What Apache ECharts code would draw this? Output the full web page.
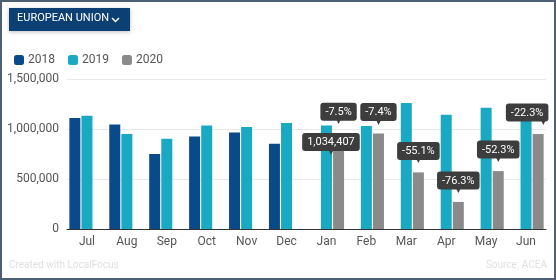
<!DOCTYPE html>
<html>
<head>
<meta charset="utf-8">
<script src="https://cdn.jsdelivr.net/npm/echarts@6/dist/echarts.min.js"></script>
<style>
  html, body { margin: 0; padding: 0; background: #fff; }
  #frame {
    width: 552px; height: 276px;
    border: 2px solid #4d6073;
    position: relative;
  }
  #chart { width: 552px; height: 276px; }
</style>
</head>
<body>
<div id="frame"><div id="chart"></div></div>
<script>
// categories and values (new car registrations, EU)
const months = ['Jul', 'Aug', 'Sep', 'Oct', 'Nov', 'Dec', 'Jan', 'Feb', 'Mar', 'Apr', 'May', 'Jun']
const regs2018 = [1110000, 1046000, 750000, 926000, 966000, 853000, null, null, null, null, null, null]
const regs2019 = [1133000, 950000, 903000, 1036000, 1020000, 1060000, 1034407, 1030000, 1260000, 1143000, 1213000, 1222000]
const regs2020 = [null, null, null, null, null, null, 957000, 954000, 566000, 271000, 579000, 950000]
const change2020 = [null, null, null, null, null, null, '-7.5%', '-7.4%', '-55.1%', '-76.3%', '-52.3%', '-22.3%']
const yTicks = [0, 500000, 1000000, 1500000]

const fmt = v => v.toString().replace(/\B(?=(\d{3})+(?!\d))/g, ',')

const tipBg = '#3d3d3d'
const tipRich = {
  box: {
    backgroundColor: tipBg, color: '#fff', borderRadius: 3,
    padding: [4, 5, 3, 5], fontSize: 11, lineHeight: 13, fontFamily: 'Roboto'
  },
  arr: { color: tipBg, fontSize: 8, lineHeight: 6, fontFamily: 'DejaVu Sans' }
}

const chart = echarts.init(document.getElementById('chart'))

// 2019 data, with the hover tooltip on Jan
const data2019 = regs2019.map((v, i) => {
  if (months[i] !== 'Jan') return v
  return {
    value: v,
    label: {
      show: true,
      position: [10, 29],
      align: 'center',
      verticalAlign: 'bottom',
      formatter: p => '{box|' + fmt(p.value) + '}\n{arr|▼}',
      rich: tipRich
    }
  }
})

// 2020 data, the last label is pushed left so it stays inside
const data2020 = regs2020.map((v, i) => {
  if (months[i] !== 'Jun') return v
  return {
    value: v,
    label: {
      offset: [-11, 0],
      rich: { arr: { align: 'right', padding: [0, 2, 0, 0] } }
    }
  }
})

chart.setOption({
  animation: false,
  textStyle: { fontFamily: 'Roboto' },
  legend: {
    left: 7, top: 47,
    itemWidth: 10, itemHeight: 10, itemGap: 13,
    icon: 'roundRect',
    textStyle: { color: '#555', fontSize: 12, padding: [0, 0, 0, -1] },
    data: ['2018', '2019', '2020']
  },
  graphic: [
    {
      type: 'rect', left: 7, top: 6,
      shape: { width: 121, height: 23 },
      style: { fill: '#0c3f73', shadowBlur: 4, shadowColor: 'rgba(0,0,0,0.25)', shadowOffsetY: 1 }
    },
    {
      type: 'text', left: 15, top: 11,
      style: { text: 'EUROPEAN UNION', fill: '#fff', font: '11px Roboto' }
    },
    {
      type: 'polyline',
      shape: { points: [[110, 16], [113.5, 19.5], [117, 16]] },
      style: { stroke: '#fff', lineWidth: 1.5, fill: null }
    },
    {
      type: 'text', left: 7, bottom: 8,
      style: { text: 'Created with LocalFocus', fill: '#e0e0e0', font: '10px Roboto' }
    },
    {
      type: 'text', right: 7, bottom: 8,
      style: { text: 'Source: ACEA', fill: '#e0e0e0', font: '10px Roboto' }
    }
  ],
  grid: { left: 65, right: 8, top: 77, bottom: 49 },
  xAxis: {
    type: 'category',
    data: months,
    axisLine: { lineStyle: { color: '#333', width: 1 } },
    axisTick: { show: false },
    axisLabel: { color: '#555', fontSize: 12, margin: 7 }
  },
  yAxis: {
    type: 'value',
    min: yTicks[0],
    max: yTicks[yTicks.length - 1],
    interval: yTicks[1] - yTicks[0],
    axisLabel: { color: '#555', fontSize: 12, margin: 8, formatter: v => fmt(v) },
    splitLine: { lineStyle: { color: '#e8e8e8' } }
  },
  series: [
    {
      name: '2018', type: 'bar', data: regs2018,
      barWidth: 11, barGap: '10%',
      itemStyle: { color: '#0b4a8a' }
    },
    {
      name: '2019', type: 'bar', data: data2019,
      barWidth: 11, barGap: '10%',
      itemStyle: { color: '#19a9c2' }
    },
    {
      name: '2020', type: 'bar', data: data2020,
      barWidth: 11, barGap: '10%',
      itemStyle: { color: '#8a8a8a' },
      label: {
        show: true,
        position: 'top',
        distance: 9,
        formatter: p => '{box|' + change2020[p.dataIndex] + '}\n{arr|▼}',
        rich: tipRich
      }
    }
  ]
})
</script>
</body>
</html>
